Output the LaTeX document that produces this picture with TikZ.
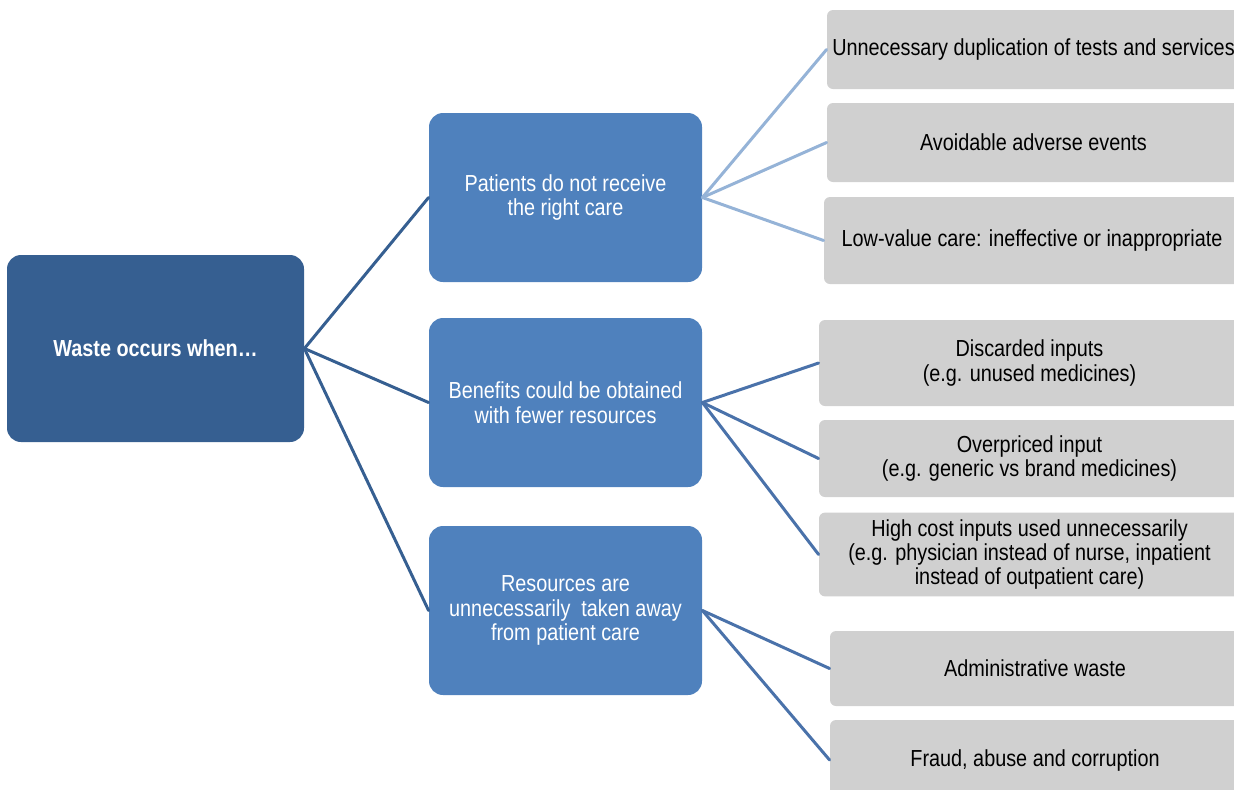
\documentclass[tikz,border=0pt]{standalone}
\usepackage{fontspec}
\setmainfont[FakeStretch=0.855]{Liberation Sans}
\usetikzlibrary{positioning}

\definecolor{rootblue}{HTML}{365F91}
\definecolor{midblue}{HTML}{4F81BD}
\definecolor{leafgray}{HTML}{D0D0D0}
\definecolor{lightline}{HTML}{95B3D7}
\definecolor{midline}{HTML}{4A72AA}

\begin{document}
\begin{tikzpicture}[x=0.5pt,y=-0.5pt,line cap=round,line join=round,
    rootbox/.style={fill=rootblue,text=white,rounded corners=7pt,minimum width=148.5pt,minimum height=93.5pt,align=center,font=\fontsize{11.6}{12.2}\selectfont\bfseries},
    midbox/.style={fill=midblue,text=white,rounded corners=7pt,minimum width=136.5pt,minimum height=84.5pt,align=center,font=\fontsize{11.6}{12.2}\selectfont},
    leafbox/.style={fill=leafgray,text=black,rounded corners=3pt,minimum width=#1,align=center,inner xsep=0pt,font=\fontsize{11.6}{12.2}\selectfont},
    rootlink/.style={draw=rootblue,line width=1.5pt},
    lightlink/.style={draw=lightline,line width=1.5pt},
    midlink/.style={draw=midline,line width=1.5pt}]
  \useasboundingbox (0,0) rectangle (1234,789);
  \clip (0,0) rectangle (1234,789);

  % first level
  \node[rootbox] (waste) at (155.5,348.5) {Waste occurs when…};
  \node[midbox] (rightcare) at (565.5,197.5) {Patients do not receive\\the right care};
  \node[midbox] (fewer) at (565.5,402.5) {Benefits could be obtained\\with fewer resources};
  \node[midbox] (takenaway) at (565.5,610.5) {Resources are\\unnecessarily~ taken away\\from patient care};

  % leaves
  \node[leafbox=206.5pt,minimum height=39.5pt] (duplication) at (1033.5,49.5) {Unnecessary duplication of tests and services};
  \node[leafbox=206.5pt,minimum height=39.5pt] (adverse) at (1033.5,142.5) {Avoidable adverse events};
  \node[leafbox=208pt,minimum height=43.5pt] (lowvalue) at (1032,240.5) {Low-value care: ineffective or inappropriate};
  \node[leafbox=210.5pt,minimum height=43pt] (discarded) at (1029.5,363) {Discarded inputs\\(e.g. unused medicines)};
  \node[leafbox=210.5pt,minimum height=38.5pt] (overpriced) at (1029.5,458.5) {Overpriced input\\(e.g. generic vs brand medicines)};
  \node[leafbox=210.5pt,minimum height=41.5pt] (highcost) at (1029.5,554.5) {High cost inputs used unnecessarily\\(e.g. physician instead of nurse, inpatient\\instead of outpatient care)};
  \node[leafbox=205pt,minimum height=37.5pt] (admin) at (1035,668.5) {Administrative waste};
  \node[leafbox=205pt,minimum height=40pt] (fraud) at (1035,760) {Fraud, abuse and corruption};

  % connectors
  \foreach \m in {rightcare,fewer,takenaway}
    \draw[rootlink] (waste.east) -- (\m.west);
  \foreach \l in {duplication,adverse,lowvalue}
    \draw[lightlink] (rightcare.east) -- (\l.west);
  \foreach \l in {discarded,overpriced,highcost}
    \draw[midlink] (fewer.east) -- (\l.west);
  \foreach \l in {admin,fraud}
    \draw[midlink] (takenaway.east) -- (\l.west);
\end{tikzpicture}
\end{document}
